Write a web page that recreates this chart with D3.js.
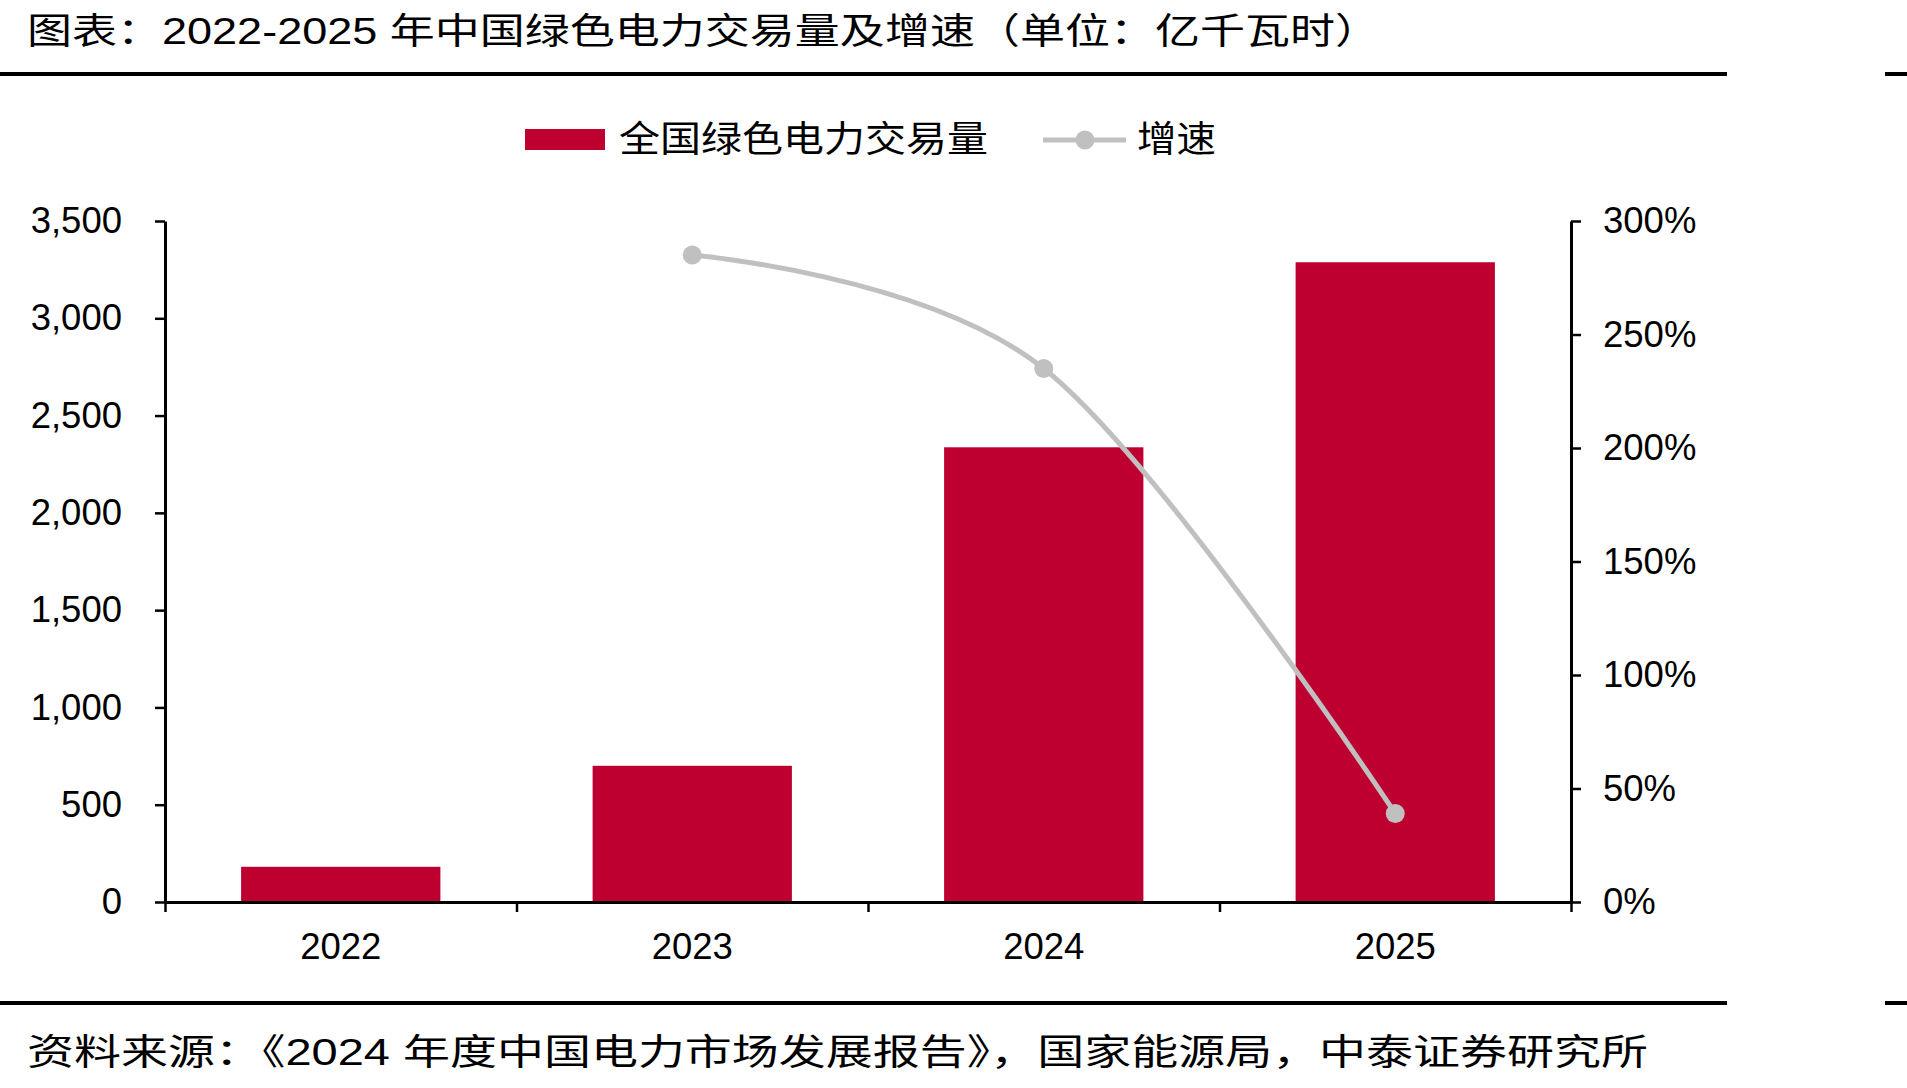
<!DOCTYPE html>
<html lang="zh">
<head>
<meta charset="utf-8">
<title>2022-2025年中国绿色电力交易量及增速</title>
<script src="https://cdn.jsdelivr.net/npm/d3@7/dist/d3.min.js"></script>
<style>
  html, body { margin: 0; padding: 0; background: #fff; }
  svg { display: block; }
  text { font-family: "Liberation Sans", Arial, "Noto Sans CJK SC", sans-serif; fill: #000; }
  .cjk { font-family: "Liberation Sans", "Noto Sans CJK SC", sans-serif; }
</style>
</head>
<body>
<div id="chart"></div>
<script>
  // data
  var years = ["2022", "2023", "2024", "2025"];
  var volume = [181, 700, 2337, 3288];          // 亿千瓦时
  var growth = [null, 285, 235, 39];            // %
  var leftTicks = [0, 500, 1000, 1500, 2000, 2500, 3000, 3500];
  var rightTicks = [0, 50, 100, 150, 200, 250, 300];

  var W = 1907, H = 1088;
  var plot = {left: 165, right: 1571, top: 221, bottom: 902};

  var svg = d3.select("#chart").append("svg")
      .attr("width", W)
      .attr("height", H);

  // title + rules
  svg.append("text")
      .attr("class", "cjk")
      .attr("x", 27).attr("y", 44)
      .attr("font-size", 36)
      .attr("textLength", 1353)
      .attr("lengthAdjust", "spacingAndGlyphs")
      .text("图表：2022-2025 年中国绿色电力交易量及增速（单位：亿千瓦时）");

  [74, 1003].forEach(function (yy) {
      svg.append("rect").attr("x", 0).attr("y", yy - 2).attr("width", 1727).attr("height", 4).attr("fill", "#000");
      svg.append("rect").attr("x", 1885).attr("y", yy - 2).attr("width", 22).attr("height", 4).attr("fill", "#000");
  });

  svg.append("text")
      .attr("class", "cjk")
      .attr("x", 27).attr("y", 1065)
      .attr("font-size", 36)
      .attr("textLength", 1621)
      .attr("lengthAdjust", "spacingAndGlyphs")
      .text("资料来源：《2024 年度中国电力市场发展报告》，国家能源局，中泰证券研究所");

  // scales
  var x = d3.scaleBand().domain(years).range([plot.left, plot.right]).paddingInner(0.433).paddingOuter(0.2165);
  var xEdge = d3.scaleLinear().domain([0, years.length]).range([plot.left, plot.right]);
  var yL = d3.scaleLinear().domain([0, 3500]).range([plot.bottom, plot.top]);
  var yR = d3.scaleLinear().domain([0, 300]).range([plot.bottom, plot.top]);

  // bars
  svg.append("g").selectAll("rect")
      .data(years)
      .join("rect")
      .attr("x", function (d) { return x(d); })
      .attr("y", function (d, i) { return yL(volume[i]); })
      .attr("width", x.bandwidth())
      .attr("height", function (d, i) { return yL(0) - yL(volume[i]); })
      .attr("fill", "#be0030");

  // growth line
  var pts = years.map(function (d, i) { return {year: d, v: growth[i]}; })
      .filter(function (p) { return p.v != null; });
  var line = d3.line()
      .x(function (p) { return x(p.year) + x.bandwidth() / 2; })
      .y(function (p) { return yR(p.v); })
      .curve(d3.curveCardinal.tension(0));
  svg.append("path")
      .datum(pts)
      .attr("d", line)
      .attr("fill", "none")
      .attr("stroke", "#c0c0c0")
      .attr("stroke-width", 5);
  svg.append("g").selectAll("circle")
      .data(pts)
      .join("circle")
      .attr("cx", function (p) { return x(p.year) + x.bandwidth() / 2; })
      .attr("cy", function (p) { return yR(p.v); })
      .attr("r", 9.5)
      .attr("fill", "#c0c0c0");

  // axes
  var gl = svg.append("g")
      .attr("transform", "translate(" + plot.left + ",0)")
      .call(d3.axisLeft(yL).tickValues(leftTicks).tickFormat(d3.format(",")).tickSize(10).tickPadding(33).tickSizeOuter(0));
  var gr = svg.append("g")
      .attr("transform", "translate(" + plot.right + ",0)")
      .call(d3.axisRight(yR).tickValues(rightTicks).tickFormat(function (d) { return d + "%"; }).tickSize(10).tickPadding(22).tickSizeOuter(0));
  var gb = svg.append("g")
      .attr("transform", "translate(0," + plot.bottom + ")")
      .call(d3.axisBottom(xEdge).tickValues(d3.range(0, years.length + 1)).tickFormat("").tickSize(10).tickSizeOuter(0));

  [gl, gr, gb].forEach(function (g) {
      g.select(".domain").attr("stroke", "#000").attr("stroke-width", 3);
      g.selectAll(".tick line").attr("stroke", "#000").attr("stroke-width", 2.5);
      g.selectAll(".tick text").attr("font-size", 36.5).attr("font-family", "Liberation Sans, Arial, sans-serif").attr("fill", "#000");
  });

  svg.append("g").selectAll("text")
      .data(years)
      .join("text")
      .attr("x", function (d) { return x(d) + x.bandwidth() / 2; })
      .attr("y", 959)
      .attr("text-anchor", "middle")
      .attr("font-size", 36.5)
      .text(function (d) { return d; });

  // legend
  var lg = svg.append("g");
  lg.append("rect").attr("x", 525).attr("y", 129).attr("width", 80).attr("height", 21).attr("fill", "#be0030");
  lg.append("text").attr("class", "cjk").attr("x", 619).attr("y", 152).attr("font-size", 36)
      .attr("textLength", 369).attr("lengthAdjust", "spacingAndGlyphs").text("全国绿色电力交易量");
  lg.append("line").attr("x1", 1043).attr("x2", 1126).attr("y1", 140).attr("y2", 140)
      .attr("stroke", "#c0c0c0").attr("stroke-width", 5);
  lg.append("circle").attr("cx", 1085).attr("cy", 140).attr("r", 9.5).attr("fill", "#c0c0c0");
  lg.append("text").attr("class", "cjk").attr("x", 1137).attr("y", 152).attr("font-size", 36)
      .attr("textLength", 79).attr("lengthAdjust", "spacingAndGlyphs").text("增速");
</script>
</body>
</html>
